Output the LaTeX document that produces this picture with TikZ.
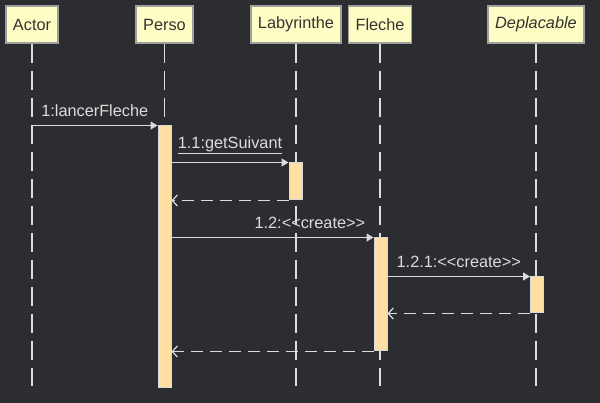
\documentclass[tikz,border=0pt]{standalone}
\usepackage{fontspec}
\setmainfont{Liberation Sans}
\usepackage{tikz}
\usetikzlibrary{arrows.meta}
\definecolor{seqBack}{HTML}{2B2D30}
\definecolor{seqLine}{HTML}{DCDCDC}
\definecolor{seqBoxFill}{HTML}{FEFEC4}
\definecolor{seqBoxDraw}{HTML}{A0A0A0}
\definecolor{seqBoxText}{HTML}{333333}
\definecolor{seqActFill}{HTML}{FFDFA3}
\definecolor{seqActDraw}{HTML}{D8D8D8}

\begin{document}
\begin{tikzpicture}[x=1pt,y=-1pt,
    font=\fontsize{16.3}{19}\selectfont,
    head/.style={draw=seqBoxDraw, fill=seqBoxFill, line width=1.5pt, text=seqBoxText, minimum height=37pt, inner xsep=7pt},
    life/.style={draw=seqLine, line width=1.2pt, dash pattern=on 19pt off 8pt},
    act/.style={draw=seqActDraw, fill=seqActFill, line width=1pt, minimum width=13pt, inner sep=0pt},
    call/.style={draw=seqLine, line width=1.2pt, -{Triangle[length=7pt,width=8pt]}},
    back/.style={draw=seqLine, line width=1.2pt, dash pattern=on 12pt off 7pt, -{Straight Barb[length=5pt,width=11pt]}},
    msg/.style={text=seqLine, above=5pt}]
    \fill [seqBack] (0,0) rectangle (600,403);
    \useasboundingbox (0,0) rectangle (600,403);
    % lifelines
    \node[head] (actor) at (32,24.5) {Actor};
    \node[head] (perso) at (164.5,24.5) {Perso};
    \node[head] (laby) at (296,24.5) {Labyrinthe};
    \node[head] (fleche) at (380,24.5) {Fleche};
    \node[head] (depl) at (536,24.5) {\textit{Deplacable}};
    \draw [life] (actor.south) -- (actor.south |- 0,386);
    \draw [life] (perso.south) -- (perso.south |- 0,386);
    \draw [life] (laby.south) -- (laby.south |- 0,386);
    \draw [life] (fleche.south) -- (fleche.south |- 0,386);
    \draw [life] (depl.south) -- (depl.south |- 0,386);
    % activations
    \node[act, minimum height=262pt] (persoAct) at (164.5,257) {};
    \node[act, minimum height=37pt] (labyAct) at (295.5,181.5) {};
    \node[act, minimum height=113pt] (flecheAct) at (380.5,294.5) {};
    \node[act, minimum height=36pt] (deplAct) at (537,295) {};
    % messages
    \draw [call] (actor |- persoAct.north) -- node[msg] {1:lancerFleche} (persoAct.north west);
    \draw [call] (persoAct.east |- labyAct.north) -- node[msg] {\underline{1.1:getSuivant}} (labyAct.north west);
    \draw [back] (labyAct.south west) -- (persoAct.east |- labyAct.south);
    \draw [call] (persoAct.east |- flecheAct.north) -- node[msg, pos=0.685] {1.2:<{}<create>{}>} (flecheAct.north west);
    \draw [call] (flecheAct.east |- deplAct.north) -- node[msg] {1.2.1:<{}<create>{}>} (deplAct.north west);
    \draw [back] (deplAct.south west) -- (flecheAct.east |- deplAct.south);
    \draw [back] (flecheAct.south west) -- (persoAct.east |- flecheAct.south);
\end{tikzpicture}
\end{document}
